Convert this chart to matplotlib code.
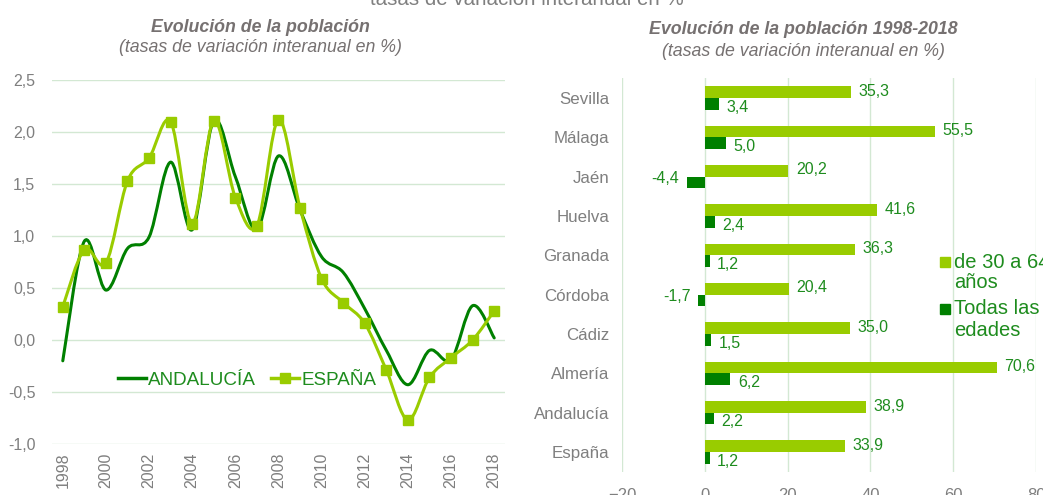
import numpy as np
import matplotlib
matplotlib.use("Agg")
import matplotlib.pyplot as plt
from matplotlib.path import Path
from matplotlib.patches import PathPatch, Rectangle
from matplotlib.lines import Line2D

plt.rcParams['font.family'] = ['Liberation Sans', 'DejaVu Sans']

# ---- data: left chart ----
years = list(range(1998, 2019))
andalucia = [-0.20, 0.95, 0.48, 0.88, 0.99, 1.71, 1.06, 2.11, 1.57, 1.06, 1.77,
             1.25, 0.80, 0.65, 0.30, -0.10, -0.43, -0.10, -0.19, 0.33, 0.02]
espana = [0.32, 0.87, 0.74, 1.53, 1.75, 2.10, 1.12, 2.11, 1.37, 1.10, 2.12,
          1.27, 0.59, 0.36, 0.16, -0.29, -0.77, -0.36, -0.17, 0.00, 0.28]

# ---- data: right chart ----
provincias = ['Sevilla', 'Málaga', 'Jaén', 'Huelva', 'Granada', 'Córdoba',
              'Cádiz', 'Almería', 'Andalucía', 'España']
de30a64 = [35.3, 55.5, 20.2, 41.6, 36.3, 20.4, 35.0, 70.6, 38.9, 33.9]
todas = [3.4, 5.0, -4.4, 2.4, 1.2, -1.7, 1.5, 6.2, 2.2, 1.2]
legend_labels = [['de 30 a 64', 'años'], ['Todas las', 'edades']]

LIGHT = '#99CC00'
DARK = '#008000'
TXT = '#1E8C1E'
GRAY = '#7F7F7F'
TITLE = '#767171'
GRID = '#D3E8D3'

W, H = 1043, 495
fig = plt.figure(figsize=(W / 100, H / 100), dpi=100)

def fx(px):
    return px / W

def fy(py):
    return 1 - py / H

def smooth_path(ax, xs, ys, color, lw):
    xs = np.asarray(xs, float); ys = np.asarray(ys, float)
    n = len(xs)
    verts = [(xs[0], ys[0])]
    codes = [Path.MOVETO]
    for i in range(n - 1):
        p0 = np.array([xs[max(i - 1, 0)], ys[max(i - 1, 0)]])
        p1 = np.array([xs[i], ys[i]])
        p2 = np.array([xs[i + 1], ys[i + 1]])
        p3 = np.array([xs[min(i + 2, n - 1)], ys[min(i + 2, n - 1)]])
        c1 = p1 + (p2 - p0) / 6.0
        c2 = p2 - (p3 - p1) / 6.0
        verts += [tuple(c1), tuple(c2), tuple(p2)]
        codes += [Path.CURVE4] * 3
    patch = PathPatch(Path(verts, codes), facecolor='none', edgecolor=color,
                      lw=lw, capstyle='round', joinstyle='round', zorder=3)
    ax.add_patch(patch)

# ---- left chart ----
ax1 = fig.add_axes([fx(52), fy(444), fx(505 - 52), (444 - 80) / H])
ax1.set_xlim(1997.5, 2018.5)
ax1.set_ylim(-1.0, 2.5)
smooth_path(ax1, years, andalucia, DARK, 2.2)
smooth_path(ax1, years, espana, LIGHT, 2.2)
ax1.plot(years, espana, linestyle='none', marker='s', markersize=7, color=LIGHT, zorder=4)
yt = np.arange(-1.0, 2.51, 0.5)
ax1.set_yticks(yt)
ax1.set_yticklabels([f"{v:.1f}".replace('.', ',') for v in yt])
ax1.set_xticks(years[::2])
ax1.set_xticklabels([str(y) for y in years[::2]], rotation=90)
ax1.grid(axis='y', color=GRID, lw=1)
ax1.set_axisbelow(True)
for s in ax1.spines.values():
    s.set_visible(False)
ax1.tick_params(axis='both', length=0, colors=GRAY, labelsize=11.5)
ax1.tick_params(axis='y', pad=12)
ax1.tick_params(axis='x', pad=6)
leg_handles = [Line2D([], [], color=DARK, lw=2.5),
               Line2D([], [], color=LIGHT, lw=2.5, marker='s', markersize=7)]
leg = ax1.legend(leg_handles, ['ANDALUCÍA', 'ESPAÑA'], loc='center', ncol=2,
                 bbox_to_anchor=(0.43, 0.175), frameon=False, fontsize=13.6,
                 handlelength=1.5, handletextpad=0.1, columnspacing=0.8)
for t in leg.get_texts():
    t.set_color(TXT)

# ---- right chart ----
ax2 = fig.add_axes([fx(622), fy(471.7), fx(1036 - 622), (471.7 - 78.3) / H])
ypos = np.arange(len(provincias))[::-1]
h = 0.3
ax2.barh(ypos + h / 2, de30a64, height=h, color=LIGHT, zorder=3)
ax2.barh(ypos - h / 2, todas, height=h, color=DARK, zorder=3)
for y, v in zip(ypos, de30a64):
    ax2.text(v + 1.8, y + h / 2 + 0.02, f"{v:.1f}".replace('.', ','), va='center', ha='left',
             color=TXT, fontsize=11.5, zorder=5)
for y, v in zip(ypos, todas):
    s = f"{v:.1f}".replace('.', ',')
    if v >= 0:
        ax2.text(v + 1.8, y - h / 2 - 0.08, s, va='center', ha='left', color=TXT, fontsize=11.5, zorder=5)
    else:
        ax2.text(v - 1.8, y - h / 2 + 0.1, s, va='center', ha='right', color=TXT, fontsize=11.5, zorder=5)
ax2.set_xlim(-20, 80)
ax2.set_ylim(-0.5, len(provincias) - 0.5)
ax2.set_xticks(np.arange(-20, 81, 20))
ax2.set_yticks(ypos)
ax2.set_yticklabels(provincias)
ax2.grid(axis='x', color=GRID, lw=1)
ax2.set_axisbelow(True)
for s in ax2.spines.values():
    s.set_visible(False)
ax2.tick_params(axis='both', length=0, colors=GRAY, labelsize=12)
ax2.tick_params(axis='y', pad=9, labelsize=12.2)
ax2.tick_params(axis='x', pad=12)

# legend of right chart (handle aligned with first line, as in reference)
leg_colors = [LIGHT, DARK]
leg_tops = [262, 309]
for col, top, lines in zip(leg_colors, leg_tops, legend_labels):
    fig.add_artist(Rectangle((fx(940), fy(top + 5)), fx(10), 10 / H, color=col,
                             transform=fig.transFigure))
    for k, line in enumerate(lines):
        fig.text(fx(954), fy(top + 21 * k), line, ha='left', va='center',
                 color=TXT, fontsize=14.5)

# ---- titles ----
fig.text(fx(527), fy(5), 'tasas de variación interanual en %', ha='center',
         va='baseline', color=GRAY, fontsize=14.8)
fig.text(fx(260), fy(28), 'Evolución de la población', ha='center', va='center',
         color=TITLE, fontsize=12.8, fontweight='bold', fontstyle='italic')
fig.text(fx(260), fy(47), '(tasas de variación interanual en %)', ha='center',
         va='center', color=TITLE, fontsize=12.8, fontstyle='italic')
fig.text(fx(803), fy(30), 'Evolución de la población 1998-2018', ha='center',
         va='center', color=TITLE, fontsize=12.8, fontweight='bold', fontstyle='italic')
fig.text(fx(803), fy(52), '(tasas de variación interanual en %)', ha='center',
         va='center', color=TITLE, fontsize=12.8, fontstyle='italic')

fig.savefig('out.png', dpi=100)
